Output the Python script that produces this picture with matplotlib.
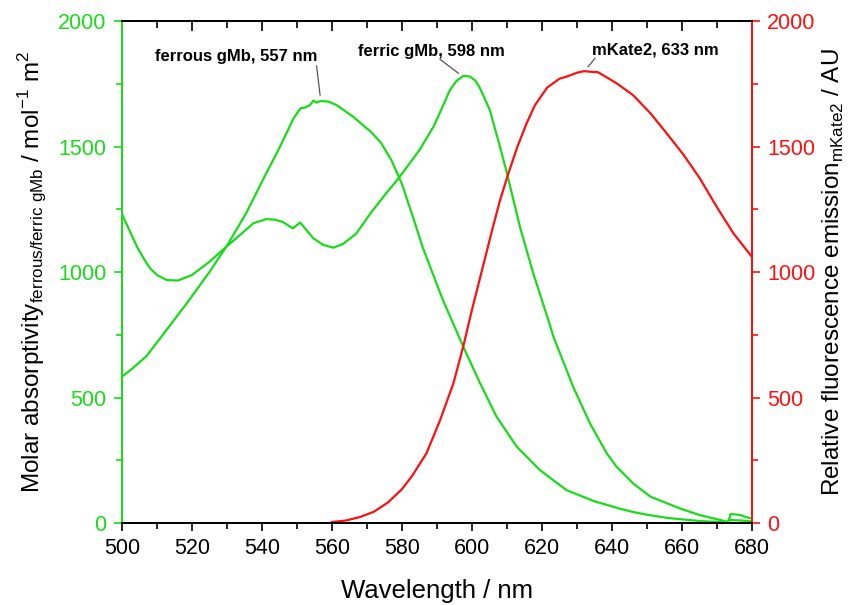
import matplotlib
matplotlib.use("Agg")
from matplotlib import pyplot as plt
from matplotlib.ticker import MultipleLocator

plt.rcParams["font.family"] = ["Liberation Sans", "DejaVu Sans"]
plt.rcParams["mathtext.fontset"] = "custom"
plt.rcParams["mathtext.rm"] = "Liberation Sans"

GREEN = "#19dc19"
RED = "#ff1010"

# ferrous gMb absorbance (peak 557 nm)
ferrous_nm = [500, 503, 507, 512, 518.5, 525, 530, 535.5, 540, 545, 549, 551, 552.5, 553.7,
              554.7, 555.6, 556.6, 559, 561.3, 566, 571, 574, 577, 580, 583, 586, 591.7,
              597.5, 602.3, 607, 612.8, 619.4, 627, 634.7, 642, 646, 650, 656, 665, 672.5,
              673.5, 677, 680]
ferrous_val = [583, 616, 665, 756, 875, 1000, 1105, 1235, 1360, 1495, 1612, 1652, 1656, 1665,
               1683, 1675, 1681, 1679, 1665, 1619, 1560, 1515, 1445, 1350, 1225, 1095, 888,
               703, 557, 424, 304, 211, 131, 88, 58, 44, 33, 20, 8, 2,
               12, 10, 6]

# ferric gMb absorbance (peak 598 nm)
ferric_nm = [500, 501.5, 503, 504.5, 506.6, 508, 510, 512.8, 516, 520, 525, 530.4, 533.7,
             537.5, 541.3, 544, 546.1, 548.8, 550.9, 554.7, 557.5, 560.4, 563.2, 567, 571,
             575, 579, 585, 589, 591, 593.7, 595.5, 597.5, 599.4, 601, 602.3, 605.1, 608, 610,
             613.7, 617.5, 621.8, 623.2, 628.9, 633.7, 638.5, 641.3, 644.2, 646, 651, 659.4,
             665, 671.8, 673.2, 673.9, 676.6, 678.5, 680]
ferric_val = [1230, 1185, 1140, 1095, 1045, 1015, 988, 968, 966, 988, 1041, 1108, 1147,
              1194, 1211, 1208, 1198, 1174, 1197, 1134, 1108, 1097, 1112, 1154, 1234,
              1305, 1373, 1486, 1579, 1640, 1725, 1760, 1781, 1779, 1762, 1732, 1645, 1499, 1393,
              1180, 995, 809, 745, 543, 397, 278, 224, 184, 158, 105, 58,
              32, 9, 3, 36, 32, 23, 18]

# mKate2 fluorescence emission (peak 633 nm)
mkate_nm = [560, 564, 568, 572, 576, 580, 583, 587, 590.9, 594.7, 597.5, 600, 602, 604, 606,
            608, 610.4, 613, 615.6, 618, 621.5, 625, 627, 630, 632, 634.7, 636, 641.3,
            646, 651, 655.6, 660.5, 665.1, 669.9, 674.7, 680]
mkate_val = [4, 10, 24, 45, 82, 135, 190, 278, 410, 557, 703, 850, 960, 1070, 1180,
             1285, 1393, 1500, 1592, 1665, 1735, 1770, 1778, 1794, 1800, 1797, 1796, 1752,
             1705, 1632, 1553, 1466, 1373, 1260, 1154, 1060]

fig = plt.figure(figsize=(8.5, 6.05), dpi=100)
ax = fig.add_axes([0.1435, 0.1355, 0.7412, 0.8298])
ax2 = ax.twinx()

ax.plot(ferrous_nm, ferrous_val, color=GREEN, linewidth=1.6)
ax.plot(ferric_nm, ferric_val, color=GREEN, linewidth=1.6)
ax2.plot(mkate_nm, mkate_val, color=RED, linewidth=1.6)

ax.set_xlim(500, 680)
ax.set_ylim(0, 2000)
ax2.set_ylim(0, 2000)

ax.xaxis.set_major_locator(MultipleLocator(20))
ax.xaxis.set_minor_locator(MultipleLocator(10))
for a in (ax, ax2):
    a.yaxis.set_major_locator(MultipleLocator(500))
    a.yaxis.set_minor_locator(MultipleLocator(250))

ax.tick_params(axis="x", which="major", direction="out", length=6, width=1.2, labelsize=15.5,
               pad=5)
ax.tick_params(axis="x", which="minor", direction="out", length=4, width=1.2)
ax.tick_params(axis="y", which="major", direction="out", length=6, width=1.2, colors=GREEN,
               labelsize=15.5, pad=5)
ax.tick_params(axis="y", which="minor", direction="out", length=4, width=1.2, colors=GREEN)
ax2.tick_params(axis="y", which="major", direction="out", length=6, width=1.2, colors=RED,
                labelsize=15.5, pad=5)
ax2.tick_params(axis="y", which="minor", direction="out", length=4, width=1.2, colors=RED)

# top ticks point inward, no labels
top = ax.secondary_xaxis("top")
top.xaxis.set_major_locator(MultipleLocator(20))
top.xaxis.set_minor_locator(MultipleLocator(10))
top.tick_params(which="major", direction="in", length=7, width=1.2, labeltop=False)
top.tick_params(which="minor", direction="in", length=5, width=1.2)
top.spines["top"].set_linewidth(1.4)

for a in (ax, ax2):
    a.spines["left"].set_color(GREEN)
    a.spines["right"].set_color(RED)
    for s in a.spines.values():
        s.set_linewidth(1.4)

ax.set_xlabel("Wavelength / nm", fontsize=18.5, labelpad=14)
ax.set_ylabel(r"Molar absorptivity$_{\mathrm{ferrous/ferric\ gMb}}$ / mol$^{-1}$ m$^{2}$",
              fontsize=17.5, labelpad=7)
ax2.set_ylabel(r"Relative fluorescence emission$_{\mathrm{mKate2}}$ / AU", fontsize=17.5,
               labelpad=4)

# peak labels
labels = ["ferrous gMb, 557 nm", "ferric gMb, 598 nm", "mKate2, 633 nm"]
label_xy = [(532.6, 1857), (588.3, 1880), (652.3, 1886)]
line_from = [(555.6, 1821), (590.9, 1847), (635.1, 1851)]
line_to = [(556.6, 1705), (596.1, 1792), (633.2, 1818)]
for txt, (tx, ty), (x0, y0), (x1, y1) in zip(labels, label_xy, line_from, line_to):
    ax.text(tx, ty, txt, fontsize=12, fontweight="bold", ha="center", va="center")
    ax.plot([x0, x1], [y0, y1], color="#555555", linewidth=0.9)

fig.savefig("out.png", dpi=100)
